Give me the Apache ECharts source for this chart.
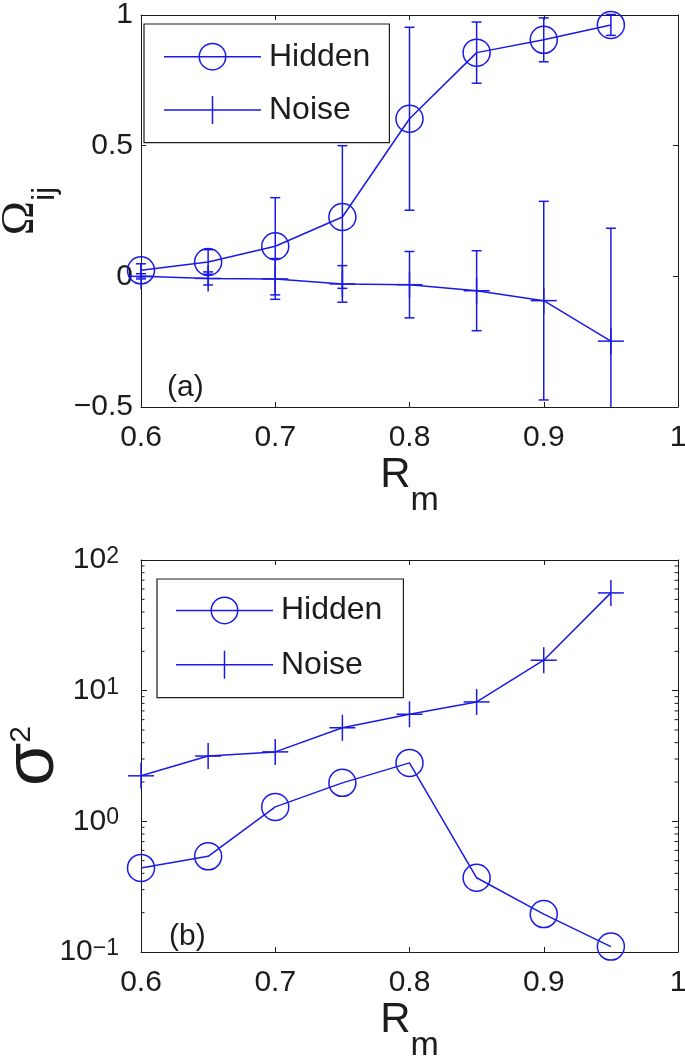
<!DOCTYPE html>
<html><head><meta charset="utf-8">
<script src="https://cdn.jsdelivr.net/npm/echarts@6/dist/echarts.min.js"></script>
<style>html,body{margin:0;padding:0;background:#fff}#c{width:685px;height:1058px}</style>
</head><body><div id="c"></div>
<script>
// ---------- data ----------
const rm = [0.6, 0.65, 0.7, 0.75, 0.8, 0.85, 0.9, 0.95];
const omegaHidden    = [0.023, 0.055, 0.115, 0.227, 0.603, 0.856, 0.905, 0.962];
const omegaHiddenErr = [0.025, 0.047, 0.186, 0.273, 0.350, 0.117, 0.084, 0.040];
const omegaNoise     = [0.000, -0.008, -0.010, -0.029, -0.032, -0.055, -0.093, -0.248];
const omegaNoiseErr  = [0.010, 0.025, 0.078, 0.070, 0.127, 0.153, 0.380, 0.432];
const sigmaHidden = [0.44, 0.54, 1.29, 1.97, 2.8, 0.37, 0.195, 0.11];
const sigmaNoise  = [2.23, 3.16, 3.40, 5.2, 6.6, 8.2, 17.1, 56];
const xTicks = [0.6, 0.7, 0.8, 0.9, 1];
const omegaTicks = [-0.5, 0, 0.5, 1];
const sigmaDecades = [0.1, 1, 10, 100];
const sigmaMinor = [0.2,0.3,0.4,0.5,0.6,0.7,0.8,0.9, 2,3,4,5,6,7,8,9, 20,30,40,50,60,70,80,90];
const seriesNames = ['Hidden', 'Noise'];
const panelLabels = ['(a)', '(b)'];

// ---------- style ----------
const BLUE = '#1a1ae6';
const INK = '#1c1c1c';
const FONT = 'Liberation Sans';
const SERIF = 'Liberation Serif';
const LW = 1.5;

const chart = echarts.init(document.getElementById('c'), null, {renderer: 'canvas'});

const xStep = Math.round((xTicks[1] - xTicks[0]) * 1000) / 1000;
const yStep = Math.round((omegaTicks[1] - omegaTicks[0]) * 1000) / 1000;
const OMIN = omegaTicks[0], OMAX = omegaTicks[omegaTicks.length - 1];

function fmtNum(v) {
  const s = String(+(+v).toFixed(3));
  return s.charAt(0) === '-' ? '\u2212' + s.slice(1) : s;
}

function xAxis(grid, pos, withLabels) {
  return {
    type: 'value', gridIndex: grid, position: pos,
    min: xTicks[0], max: xTicks[xTicks.length - 1], interval: xStep,
    axisLine: {onZero: false, lineStyle: {color: INK, width: 1}},
    axisTick: {inside: true, length: 5, lineStyle: {color: INK, width: 1}},
    axisLabel: {show: withLabels, fontSize: 30, fontFamily: FONT, color: INK, margin: 16, formatter: fmtNum},
    splitLine: {show: false},
    name: withLabels ? '{r|R}{s|m}' : '',
    nameLocation: 'middle', nameGap: 47, nameMoveOverlap: false,
    nameTextStyle: {
      rich: {
        r: {fontSize: 42, lineHeight: 42, verticalAlign: 'top', fontFamily: FONT, color: INK},
        s: {fontSize: 34, lineHeight: 64, verticalAlign: 'bottom', fontFamily: FONT, color: INK}
      }
    }
  };
}

function omegaAxis(pos, withLabels) {
  return {
    type: 'value', gridIndex: 0, position: pos,
    min: OMIN, max: OMAX, interval: yStep,
    axisLine: {onZero: false, lineStyle: {color: INK, width: 1}},
    axisTick: {inside: true, length: 5, lineStyle: {color: INK, width: 1}},
    axisLabel: {show: withLabels, fontSize: 30, fontFamily: FONT, color: INK, margin: 8, formatter: fmtNum},
    splitLine: {show: false},
    name: withLabels ? '{o|\u03A9}{s|ij}' : '',
    nameLocation: 'middle', nameRotate: 90, nameGap: 80, nameMoveOverlap: false,
    nameTextStyle: {
      rich: {
        o: {fontSize: 46, lineHeight: 46, verticalAlign: 'top', fontFamily: SERIF, color: INK},
        s: {fontSize: 32, lineHeight: 63, verticalAlign: 'bottom', fontFamily: FONT, color: INK}
      }
    }
  };
}

function sigmaAxis(pos, withLabels) {
  return {
    type: 'log', logBase: 10, gridIndex: 1, position: pos,
    min: sigmaDecades[0], max: sigmaDecades[sigmaDecades.length - 1],
    axisLine: {onZero: false, lineStyle: {color: INK, width: 1}},
    axisTick: {inside: true, length: 6, lineStyle: {color: INK, width: 1}},
    axisLabel: {
      show: withLabels, margin: 22,
      formatter: function (v) {
        const e = Math.round(Math.log10(v));
        return '{b|10}{s|' + (e < 0 ? '\u2212' + (-e) : e) + '}';
      },
      rich: {
        b: {fontSize: 30, lineHeight: 30, verticalAlign: 'middle', fontFamily: FONT, color: INK},
        s: {fontSize: 23, lineHeight: 20, padding: [0, 0, 19, 0], verticalAlign: 'top', fontFamily: FONT, color: INK}
      }
    },
    splitLine: {show: false},
    name: withLabels ? '{o|\u03C3}{s|2}' : '',
    nameLocation: 'middle', nameRotate: 90, nameGap: 72, nameMoveOverlap: false,
    nameTextStyle: {
      rich: {
        o: {fontSize: 70, lineHeight: 70, verticalAlign: 'bottom', fontFamily: FONT, color: INK},
        s: {fontSize: 30, lineHeight: 30, padding: [8, 0, 0, 0], verticalAlign: 'top', fontFamily: FONT, color: INK}
      }
    }
  };
}

// error bars (clipped to the y range)
function errRender(params, api) {
  const x = api.value(0), y = api.value(1), e = api.value(2);
  const lo = Math.max(y - e, OMIN), hi = Math.min(y + e, OMAX + 0.01);
  const pLo = api.coord([x, lo]), pHi = api.coord([x, hi]);
  const st = {stroke: BLUE, lineWidth: LW};
  const ch = [{type: 'line', shape: {x1: pLo[0], y1: pLo[1], x2: pHi[0], y2: pHi[1]}, style: st}];
  const cw = 5;
  if (y - e >= OMIN) ch.push({type: 'line', shape: {x1: pLo[0] - cw, y1: pLo[1], x2: pLo[0] + cw, y2: pLo[1]}, style: st});
  if (y + e <= OMAX + 0.01) ch.push({type: 'line', shape: {x1: pHi[0] - cw, y1: pHi[1], x2: pHi[0] + cw, y2: pHi[1]}, style: st});
  return {type: 'group', children: ch};
}

// "+" markers
function plusRender(params, api) {
  const p = api.coord([api.value(0), api.value(1)]);
  const h = 13;
  const st = {stroke: BLUE, lineWidth: LW};
  return {type: 'group', children: [
    {type: 'line', shape: {x1: p[0] - h, y1: p[1], x2: p[0] + h, y2: p[1]}, style: st},
    {type: 'line', shape: {x1: p[0], y1: p[1] - h, x2: p[0], y2: p[1] + h}, style: st}
  ]};
}

// log minor ticks on both vertical sides
function minorRender(params, api) {
  const v = api.value(1);
  const l = api.coord([xTicks[0], v]);
  const r = api.coord([xTicks[xTicks.length - 1], v]);
  const st = {stroke: INK, lineWidth: 1};
  const len = 3.5;
  return {type: 'group', children: [
    {type: 'line', shape: {x1: l[0], y1: l[1], x2: l[0] + len, y2: l[1]}, style: st},
    {type: 'line', shape: {x1: r[0] - len, y1: r[1], x2: r[0], y2: r[1]}, style: st}
  ]};
}

const zip = (a, b) => a.map((x, i) => [x, b[i]]);
const zip3 = (a, b, c) => a.map((x, i) => [x, b[i], c[i]]);

function hiddenLine(xi, yi, values) {
  return {
    name: seriesNames[0], type: 'line', xAxisIndex: xi, yAxisIndex: yi,
    data: zip(rm, values), symbol: 'circle', symbolSize: 27,
    itemStyle: {color: 'rgba(0,0,0,0)', borderColor: BLUE, borderWidth: LW},
    lineStyle: {color: BLUE, width: LW}, emphasis: {disabled: true}, animation: false, z: 4
  };
}
function noiseLine(xi, yi, values) {
  return {
    name: seriesNames[1], type: 'line', xAxisIndex: xi, yAxisIndex: yi,
    data: zip(rm, values), symbol: 'none', color: BLUE,
    lineStyle: {color: BLUE, width: LW}, emphasis: {disabled: true}, animation: false, z: 3
  };
}

const HIDDEN_ICON = 'path://M0,13.25L34.5,13.25L34.5,14.75L0,14.75Z' +
  'M62.5,13.25L97,13.25L97,14.75L62.5,14.75Z' +
  'M36,13.25L61,13.25L61,14.75L36,14.75Z' +
  'M34.5,14A14,14 0 1 1 62.5,14A14,14 0 1 1 34.5,14Z' +
  'M36,14A12.5,12.5 0 1 0 61,14A12.5,12.5 0 1 0 36,14Z';
const NOISE_ICON = 'path://M0,13.25L97,13.25L97,14.75L0,14.75Z' +
  'M47.75,0L49.25,0L49.25,13.25L47.75,13.25Z' +
  'M47.75,14.75L49.25,14.75L49.25,28L47.75,28Z';

function legendBox(left, top, gap, pad) {
  return {
    orient: 'vertical', left: left, top: top,
    itemWidth: 97, itemHeight: 28, itemGap: gap, padding: pad,
    borderColor: INK, borderWidth: 1.2, backgroundColor: '#fff', borderRadius: 0,
    selectedMode: false,
    textStyle: {fontSize: 32, fontFamily: FONT, color: INK, lineHeight: 28, padding: [0, 0, 0, 3]},
    itemStyle: {color: BLUE, borderWidth: 0},
    data: [{name: seriesNames[0], icon: HIDDEN_ICON}, {name: seriesNames[1], icon: NOISE_ICON}]
  };
}

const option = {
  backgroundColor: '#fff',
  animation: false,
  grid: [
    {left: 141, right: 7, top: 15, height: 392, outerBoundsMode: 'none', containLabel: false},
    {left: 141, right: 7, top: 560, height: 392, outerBoundsMode: 'none', containLabel: false}
  ],
  xAxis: [xAxis(0, 'bottom', true), xAxis(0, 'top', false), xAxis(1, 'bottom', true), xAxis(1, 'top', false)],
  yAxis: [omegaAxis('left', true), omegaAxis('right', false), sigmaAxis('left', true), sigmaAxis('right', false)],
  legend: [
    legendBox(144, 24, 21.3, [16.7, 19, 16.7, 20]),
    legendBox(157, 579, 22.3, [15.4, 21, 17, 19])
  ],
  graphic: [
    {type: 'text', left: 167, top: 373, silent: true, style: {text: panelLabels[0], fontSize: 30, fontFamily: FONT, fill: INK}},
    {type: 'text', left: 169, top: 922, silent: true, style: {text: panelLabels[1], fontSize: 30, fontFamily: FONT, fill: INK}}
  ],
  series: [
    {name: 'errHidden', type: 'custom', xAxisIndex: 0, yAxisIndex: 0, renderItem: errRender,
     data: zip3(rm, omegaHidden, omegaHiddenErr), encode: {x: 0, y: 1}, silent: true, z: 2},
    {name: 'errNoise', type: 'custom', xAxisIndex: 0, yAxisIndex: 0, renderItem: errRender,
     data: zip3(rm, omegaNoise, omegaNoiseErr), encode: {x: 0, y: 1}, silent: true, z: 2},
    hiddenLine(0, 0, omegaHidden),
    noiseLine(0, 0, omegaNoise),
    {name: 'plusA', type: 'custom', xAxisIndex: 0, yAxisIndex: 0, renderItem: plusRender,
     data: zip(rm, omegaNoise), encode: {x: 0, y: 1}, silent: true, z: 4},
    hiddenLine(2, 2, sigmaHidden),
    noiseLine(2, 2, sigmaNoise),
    {name: 'plusB', type: 'custom', xAxisIndex: 2, yAxisIndex: 2, renderItem: plusRender,
     data: zip(rm, sigmaNoise), encode: {x: 0, y: 1}, silent: true, z: 4},
    {name: 'minorTicks', type: 'custom', xAxisIndex: 2, yAxisIndex: 2, renderItem: minorRender,
     data: sigmaMinor.map(v => [xTicks[0], v]), encode: {x: 0, y: 1}, silent: true, clip: false, z: 5}
  ]
};
chart.setOption(option);
</script>
</body></html>
